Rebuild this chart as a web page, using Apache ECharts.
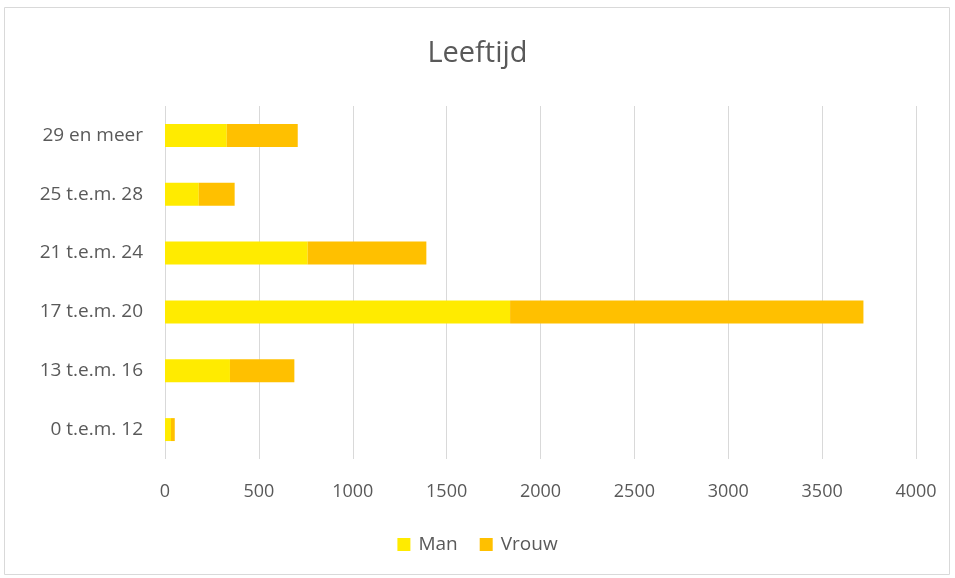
<!DOCTYPE html>
<html>
<head>
<meta charset="utf-8">
<script src="https://cdn.jsdelivr.net/npm/echarts@6/dist/echarts.min.js"></script>
<style>
html,body{margin:0;padding:0;background:#fff;}
#c{width:955px;height:578px;}
</style>
</head>
<body>
<div id="c"></div>
<script>
const categories = ["0 t.e.m. 12", "13 t.e.m. 16", "17 t.e.m. 20", "21 t.e.m. 24", "25 t.e.m. 28", "29 en meer"];
const man = [32, 346, 1838, 760, 180, 329];
const vrouw = [20, 343, 1882, 632, 191, 378];
const xTicks = [0, 500, 1000, 1500, 2000, 2500, 3000, 3500, 4000];

const chart = echarts.init(document.getElementById('c'));
const font = '"Open Sans", "Noto Sans", sans-serif';
chart.setOption({
  animation: false,
  textStyle: {fontFamily: font},
  graphic: [{
    type: 'rect',
    shape: {x: 4.5, y: 7.5, width: 945, height: 567},
    style: {fill: 'none', stroke: '#d9d9d9', lineWidth: 1},
    silent: true
  }],
  title: {
    text: 'Leeftijd',
    left: 'center',
    top: 34,
    textStyle: {fontFamily: font, fontSize: 29, fontWeight: 'normal', color: '#595959'}
  },
  legend: {
    data: ['Man', 'Vrouw'],
    bottom: 19,
    left: 'center',
    itemWidth: 13,
    itemHeight: 13,
    itemGap: 22,
    icon: 'rect',
    textStyle: {fontFamily: font, fontSize: 19, color: '#595959', padding: [0, 0, 0, 3]}
  },
  grid: {left: 165, right: 39, top: 106, bottom: 119, containLabel: false},
  xAxis: {
    type: 'value',
    min: 0, max: 4000, interval: 500,
    axisLine: {show: false},
    axisTick: {show: false},
    splitLine: {lineStyle: {color: '#d9d9d9', width: 1}},
    axisLabel: {
      fontFamily: font, fontSize: 18, color: '#595959', margin: 24,
      formatter: v => xTicks.includes(v) ? String(v) : ''
    }
  },
  yAxis: {
    type: 'category',
    data: categories,
    axisLine: {show: false},
    axisTick: {show: false},
    axisLabel: {fontFamily: font, fontSize: 19, color: '#595959', margin: 22}
  },
  series: [
    {name: 'Man', type: 'bar', stack: 'a', data: man, barCategoryGap: '61%', itemStyle: {color: '#FFEB00'}},
    {name: 'Vrouw', type: 'bar', stack: 'a', data: vrouw, barCategoryGap: '61%', itemStyle: {color: '#FFC000'}}
  ]
});
</script>
</body>
</html>
